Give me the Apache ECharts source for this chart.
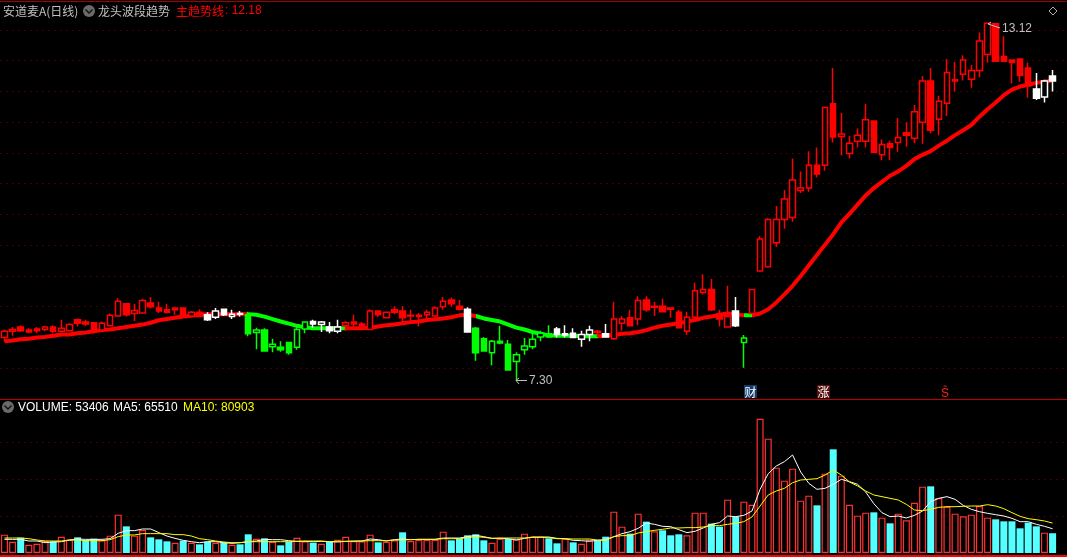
<!DOCTYPE html>
<html><head><meta charset="utf-8">
<style>html,body{margin:0;padding:0;background:#000}#c{width:1067px;height:557px}</style>
<script src="https://cdn.jsdelivr.net/npm/echarts@6/dist/echarts.min.js"></script></head>
<body><div id="c"></div><script>
// [open, close, low, high]
const ohlc = [
[8.00,8.10,7.93,8.13],[8.10,8.13,8.03,8.17],[8.17,8.11,8.09,8.20],[8.12,8.09,8.07,8.15],[8.14,8.11,8.07,8.17],[8.13,8.17,8.10,8.19],[8.17,8.10,8.07,8.20],[8.10,8.15,8.08,8.29],[8.11,8.21,8.10,8.23],[8.29,8.23,8.18,8.31],
[8.25,8.22,8.19,8.29],[8.24,8.12,8.07,8.24],[8.12,8.23,8.11,8.26],[8.19,8.36,8.18,8.39],[8.35,8.59,8.34,8.64],[8.55,8.37,8.34,8.56],[8.39,8.44,8.27,8.55],[8.40,8.60,8.39,8.63],[8.56,8.50,8.47,8.66],[8.48,8.43,8.40,8.58],
[8.45,8.41,8.39,8.55],[8.48,8.45,8.37,8.48],[8.48,8.35,8.33,8.48],[8.35,8.41,8.34,8.43],[8.41,8.34,8.34,8.46],[8.37,8.29,8.27,8.41],[8.33,8.43,8.30,8.48],[8.46,8.37,8.35,8.46],[8.34,8.38,8.30,8.45],[8.39,8.38,8.34,8.43],
[8.37,8.06,8.02,8.42],[8.08,8.12,7.81,8.16],[8.12,7.78,7.78,8.15],[7.85,7.89,7.76,7.98],[7.84,7.80,7.77,7.94],[7.92,7.75,7.72,7.92],[7.84,8.13,7.80,8.17],[8.14,8.25,8.07,8.25],[8.26,8.22,8.16,8.29],[8.21,8.25,8.09,8.27],
[8.17,8.11,8.07,8.25],[8.10,8.17,8.07,8.29],[8.19,8.24,8.11,8.27],[8.25,8.22,8.18,8.37],[8.22,8.19,8.13,8.25],[8.13,8.43,8.12,8.46],[8.43,8.37,8.33,8.43],[8.32,8.41,8.31,8.41],[8.45,8.41,8.38,8.51],[8.43,8.32,8.23,8.51],
[8.36,8.35,8.25,8.45],[8.36,8.34,8.18,8.40],[8.37,8.41,8.29,8.45],[8.35,8.48,8.33,8.51],[8.50,8.59,8.45,8.66],[8.61,8.55,8.50,8.65],[8.51,8.46,8.44,8.61],[8.46,8.09,8.09,8.49],[8.15,7.75,7.62,8.17],[7.98,7.78,7.77,8.01],
[7.75,7.94,7.55,7.96],[7.94,7.91,7.89,8.19],[7.89,7.47,7.47,7.96],[7.61,7.72,7.30,7.76],[7.80,7.86,7.72,7.99],[7.85,7.97,7.81,8.06],[8.01,8.07,7.94,8.11],[8.06,8.01,8.00,8.20],[8.14,8.05,8.00,8.17],[8.06,8.04,8.00,8.20],
[8.07,8.00,8.00,8.15],[7.97,8.05,7.85,8.11],[8.05,8.12,7.94,8.19],[8.10,8.08,8.01,8.12],[8.06,8.01,8.01,8.22],[7.98,8.30,7.96,8.58],[8.23,8.30,8.11,8.35],[8.32,8.19,8.19,8.45],[8.30,8.60,8.20,8.67],[8.61,8.45,8.42,8.67],
[8.51,8.49,8.35,8.58],[8.51,8.42,8.42,8.63],[8.48,8.46,8.32,8.48],[8.41,8.16,8.15,8.45],[8.10,8.33,8.04,8.42],[8.33,8.76,8.30,8.89],[8.73,8.78,8.70,9.03],[8.78,8.45,8.43,8.95],[8.38,8.30,8.18,8.45],[8.17,8.34,8.17,8.84],
[8.43,8.19,8.17,8.66],[7.92,7.99,7.51,8.04],[8.39,8.78,8.39,8.78],[9.08,9.60,9.08,9.65],[9.15,9.92,9.15,9.94],[9.54,9.92,9.47,10.14],[9.92,10.25,9.77,10.40],[9.95,10.56,9.88,10.91],[10.39,10.43,10.35,10.70],[10.43,10.80,10.37,11.03],
[10.80,10.66,10.60,11.09],[10.80,11.74,10.71,11.74],[11.80,11.26,11.17,12.38],[11.27,11.31,10.96,11.65],[10.99,11.16,10.91,11.28],[11.19,11.29,11.09,11.40],[11.19,11.54,11.09,11.80],[11.52,11.01,11.01,11.52],[10.97,11.14,10.88,11.22],[11.15,11.09,10.88,11.20],
[11.17,11.25,11.02,11.57],[11.33,11.29,11.10,11.50],[11.24,11.67,11.16,11.78],[11.50,12.17,11.15,12.25],[12.17,11.37,11.32,12.38],[11.55,11.84,11.29,11.93],[11.81,12.31,11.60,12.53],[12.17,12.19,12.00,12.48],[12.28,12.51,12.18,12.59],[12.20,12.34,12.06,12.43],
[12.34,12.82,12.23,12.96],[12.60,13.11,12.47,13.12],[13.10,12.49,12.49,13.10],[12.57,12.49,12.49,12.90],[12.51,12.47,12.13,12.51],[12.53,12.26,12.16,12.53],[12.38,12.09,11.90,12.47],[12.04,11.89,11.86,12.30],[11.91,12.17,11.82,12.19],[12.25,12.17,12.00,12.35]
];
const candleTone = ("rrrrrrrrrr"+"rrrrrrrrrr"+"rrrrrwwwww"+"ggggggggww"+"wwrrrrrrrr"+"rrrrrrrwgg"+"ggggggggww"+"wwwrwrrrrr"+"rrrrrrrrrr"+"wgrrrrrrrr"+"rrrrrrrrrr"+"rrrrrrrrrr"+"rrrrrrrwww").split("");
const trendLine = [
7.94,7.95,7.97,7.98,8.00,8.01,8.03,8.05,8.05,8.07,
8.08,8.10,8.12,8.13,8.15,8.17,8.19,8.21,8.24,8.28,
8.30,8.32,8.34,8.355,8.37,8.38,8.38,8.38,8.38,8.38,
8.38,8.37,8.34,8.30,8.26,8.225,8.19,8.165,8.15,8.15,
8.15,8.15,8.15,8.15,8.15,8.16,8.18,8.20,8.21,8.23,
8.25,8.26,8.285,8.295,8.31,8.33,8.36,8.37,8.35,8.31,
8.285,8.26,8.21,8.16,8.13,8.09,8.06,8.035,8.03,8.03,
8.03,8.02,8.02,8.02,8.03,8.04,8.06,8.07,8.09,8.12,
8.16,8.19,8.21,8.23,8.26,8.285,8.32,8.34,8.37,8.39,
8.38,8.36,8.36,8.39,8.46,8.57,8.70,8.84,9.00,9.17,
9.34,9.51,9.68,9.87,10.01,10.16,10.31,10.43,10.53,10.63,
10.70,10.79,10.90,10.97,11.03,11.12,11.20,11.29,11.37,11.455,
11.59,11.71,11.82,11.94,12.03,12.08,12.11,12.14,12.16,12.18];
const trendPhases = [[0,29,"up"],[30,41,"down"],[42,57,"up"],[58,72,"down"],[73,90,"up"],[91,91,"down"],[92,129,"up"]];
const volume = [
49600,30600,41400,22500,25200,33300,31500,44100,36000,42300,
35100,38700,34200,46900,103600,72000,46900,62200,42300,36900,
31500,27900,33300,27900,23400,30600,27900,27900,22500,23400,
50500,38700,39600,30600,20700,29700,41400,31500,27900,25200,
30600,36000,44100,32400,31500,49600,28800,30600,34200,55900,
32400,36000,36000,36000,57700,34200,38700,47800,50500,34200,
27900,38700,37800,36900,52300,44100,44100,39600,26100,38700,
28800,25200,36000,34200,44100,111700,71200,52300,106300,84700,
58600,61300,47800,50500,47800,109000,109000,79300,71200,144200,
98200,138800,130600,363000,309000,230700,195500,228000,141500,155000,
128800,214400,280200,209000,130600,100900,109000,109900,95500,80200,
106300,88300,136000,179300,180200,148700,125200,106300,99100,103600,
127000,95500,91000,85600,85600,66700,82000,72100,55000,53406];
const volumeKind = ("RRCRRRCRRC"+"CCRRRCRRCC"+"CRCRCCRCRC"+"CRCRCCRRCR"+"CRRRRRCRRC"+"RRRRRCCCCC"+"RRCRRRRCCR"+"CRRCCRRCRC"+"RCCCRRRCCR"+"CRRRRRRRRR"+"CRCRRRRCRC"+"RRRRCRRRRR"+"RRCCCCCCRC").split("");
const ma5 = [
36900,36900,36900,32400,32400,27900,29700,30600,35100,37800,
36900,36900,36900,38700,53200,60400,60400,64900,64900,55000,
45900,39600,34200,30600,27900,30600,30600,27900,26100,27900,
30600,32400,36900,36000,36000,33300,31500,31500,30600,31500,
30600,29700,31500,32400,32400,37800,36000,32400,36000,37800,
36000,36900,36900,36900,40500,40500,40500,44100,47800,44100,
39600,39600,38700,35100,39600,43200,43200,43200,39600,38700,
34200,33300,31500,34200,36000,44100,52300,57700,66700,81100,
77500,72100,71200,63100,55000,58600,67600,77500,82000,100000,
98200,101800,113500,172100,214400,235200,246900,264900,218900,188300,
172100,174800,185600,199100,192800,185600,164900,133300,109000,98200,
100000,94600,101800,113500,138800,147800,152300,145100,128800,118000,
111700,107200,103600,100000,93700,84700,84700,77500,72100,65510];
const ma10 = [
40500,40500,40500,38700,35100,32400,32400,32400,35100,35100,
33300,33300,33300,36000,44100,48700,48700,52300,52300,52300,
52300,49600,49600,45900,38700,36000,32400,29700,27900,27900,
30600,30600,30600,30600,30600,30600,31500,32400,32400,32400,
30600,31500,31500,31500,32400,33300,33300,33300,35100,35100,
36000,36900,36900,36900,38700,38700,38700,41400,44100,42300,
39600,40500,40500,40500,40500,42300,42300,41400,38700,38700,
37800,37800,37800,35100,34200,44100,46900,46900,54100,57700,
61300,64000,67600,67600,68500,68500,70300,73900,73900,77500,
80200,84700,97300,127000,156800,167600,174800,190100,197300,199100,
200900,210800,224300,210800,191900,181100,167600,156800,152300,147800,
143300,131500,116200,114400,118000,123400,125200,125200,126100,127000,
127000,130600,127000,119800,109000,99100,92800,90100,86500,80903];
const categories = Array.from({length:132},(_,i)=>"D"+(i+1));

const tones = {r:"#ff0000",w:"#ffffff",g:"#00ff00"};
const candleSeries = Object.keys(tones).map(t=>({
  type:"candlestick",xAxisIndex:0,yAxisIndex:0,barWidth:6,z:2,clip:false,
  data:ohlc.map((v,i)=>candleTone[i]===t?v:"-"),
  itemStyle:{color:"#000",color0:tones[t],borderColor:tones[t],borderColor0:tones[t],borderWidth:1.5}
}));
const volData = volume.map((v,i)=>({value:v,itemStyle:volumeKind[i]==="R"
  ?{color:"#000",borderColor:"#ff3232",borderWidth:1.2}
  :{color:"#54ffff",borderWidth:0}}));
const pieces = trendPhases.map(p=>({gte:p[0]-0.5,lt:p[1]+0.5,color:p[2]==="up"?"#ff0000":"#00ff00"}));
const dot = {color:"#8a0000",width:1,type:[1,5]};
const sans = "Liberation Sans, Arial, sans-serif";
const cjk = "'Noto Sans CJK SC', sans-serif";
function txt(x,y,t,fill,font){return {type:"text",silent:true,z:50,x:x,y:y,style:{text:t,fill:fill,font:font,textVerticalAlign:"middle",textBaseline:"middle"}};}
function ln(a,b,c,d,col,w){return {type:"line",silent:true,z:40,shape:{x1:a,y1:b,x2:c,y2:d},style:{stroke:col,lineWidth:w}};}
function chevron(x,y){return [
 {type:"circle",silent:true,z:50,shape:{cx:x,cy:y,r:6},style:{fill:"#6a6a6a"}},
 {type:"polyline",silent:true,z:51,shape:{points:[[x-3.5,y-1.5],[x,y+2],[x+3.5,y-1.5]]},style:{stroke:"#111",fill:null,lineWidth:1.4}}];}

const chart = echarts.init(document.getElementById("c"),null,{renderer:"canvas"});
chart.setOption({
 backgroundColor:"#000",animation:false,
 grid:[{left:0.4,top:2,width:1072.5,height:397,outerBoundsMode:"none"},{left:0.4,top:405,width:1072.5,height:148,outerBoundsMode:"none"}],
 xAxis:[0,1].map(g=>({type:"category",gridIndex:g,data:categories,boundaryGap:true,
   axisLine:{show:false},axisTick:{show:false},axisLabel:{show:false},splitLine:{show:false}})),
 yAxis:[
  {type:"value",gridIndex:0,min:7,max:13.455,interval:0.5,axisLine:{show:false},axisTick:{show:false},axisLabel:{show:false},
   splitLine:{show:true,showMinLine:false,showMaxLine:false,lineStyle:dot}},
  {type:"value",gridIndex:1,min:0,max:400000,interval:100000,axisLine:{show:false},axisTick:{show:false},axisLabel:{show:false},
   splitLine:{show:true,showMinLine:false,showMaxLine:false,lineStyle:dot}}],
 visualMap:{show:false,type:"piecewise",seriesIndex:0,dimension:0,pieces:pieces},
 series:[
  {type:"line",name:"主趋势线",xAxisIndex:0,yAxisIndex:0,data:trendLine,showSymbol:false,z:1,lineStyle:{width:4}},
  ...candleSeries,
  {type:"bar",xAxisIndex:1,yAxisIndex:1,data:volData,barWidth:7,z:1},
  {type:"line",name:"MA5",xAxisIndex:1,yAxisIndex:1,data:ma5,showSymbol:false,z:3,lineStyle:{width:1,color:"#ffffff"}},
  {type:"line",name:"MA10",xAxisIndex:1,yAxisIndex:1,data:ma10,showSymbol:false,z:4,lineStyle:{width:1,color:"#ffff00"}}
 ],
 graphic:[
  ln(0,1.5,1067,1.5,"#a00000",1),
  ln(0,399.5,1067,399.5,"#c00000",1),
  ln(0,556,1067,556,"#ff0000",2),
  txt(3,11,"安道麦A(日线)","#c0c0c0","12px "+cjk),
  ...chevron(89,11),
  txt(98,11,"龙头波段趋势","#c0c0c0","12px "+cjk),
  txt(176,11,"主趋势线","#ff0000","12px "+cjk),
  txt(225,11,": 12.18","#ff0000","12px "+sans),
  ...chevron(8,407),
  txt(18,408,"VOLUME: 53406","#ffffff","12px "+sans),
  txt(113,408,"MA5: 65510","#ffffff","12px "+sans),
  txt(183,408,"MA10: 80903","#ffff00","12px "+sans),
  txt(529,381,"7.30","#c0c0c0","12px "+sans),
  ln(516,380.5,527,380.5,"#c0c0c0",1), ln(516,380.5,519,378,"#c0c0c0",1), ln(516,380.5,519,384,"#c0c0c0",1),
  txt(1002,29,"13.12","#c0c0c0","12px "+sans),
  ln(988,24,1000,28,"#c0c0c0",1), ln(988,24,991,22,"#c0c0c0",1),
  {type:"rect",silent:true,z:45,shape:{x:744,y:385,width:13,height:13},style:{fill:"#123a6b"}},
  txt(744.5,392,"财","#ffffff","12px "+cjk),
  {type:"rect",silent:true,z:45,shape:{x:817,y:385,width:13,height:13},style:{fill:"#5a1010"}},
  txt(817.5,392,"涨","#ffffff","12px "+cjk),
  txt(941,394,"Ŝ","#ff2020","12px "+sans),
  {type:"polygon",silent:true,z:50,shape:{points:[[1053,7],[1057,11],[1053,15],[1049,11]]},style:{stroke:"#aaaaaa",fill:null,lineWidth:1}}
 ]
});
</script></body></html>
